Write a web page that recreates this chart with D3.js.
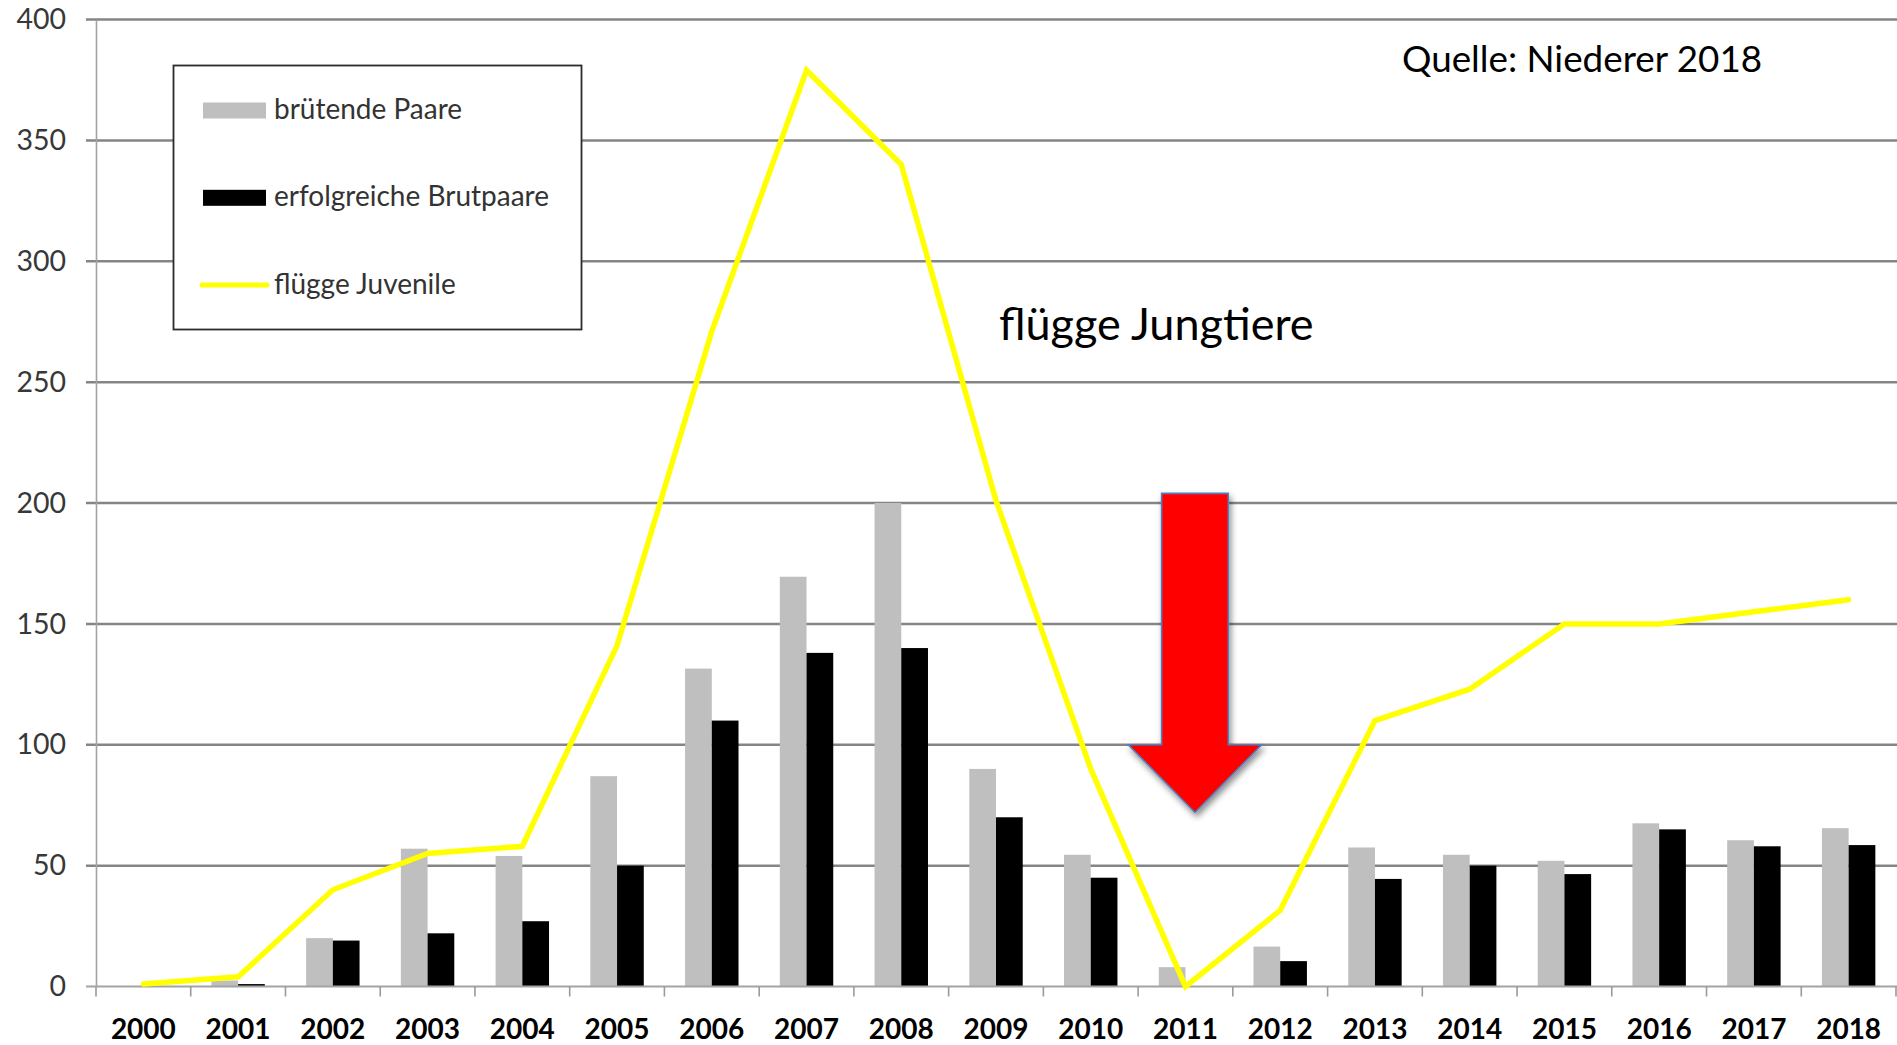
<!DOCTYPE html>
<html>
<head>
<meta charset="utf-8">
<script src="https://cdn.jsdelivr.net/npm/d3@7"></script>
<style>
  html, body { margin: 0; padding: 0; background: #fff; }
  svg { display: block; }
</style>
</head>
<body>
<svg id="chart" width="1897" height="1045"></svg>
<script>
// Jahre (Kategorien)
const years = ["2000", "2001", "2002", "2003", "2004", "2005", "2006", "2007", "2008", "2009",
               "2010", "2011", "2012", "2013", "2014", "2015", "2016", "2017", "2018"];

// brütende Paare
const brutendePaare = [0, 2.5, 20, 57, 54, 87, 131.5, 169.5, 200, 90,
                       54.5, 8, 16.5, 57.5, 54.5, 52, 67.5, 60.5, 65.5];

// erfolgreiche Brutpaare
const erfolgreicheBrutpaare = [0, 1, 19, 22, 27, 50, 110, 138, 140, 70,
                               45, 0, 10.5, 44.5, 50, 46.5, 65, 58, 58.5];

// flügge Juvenile
const fluggeJuvenile = [1, 4, 40, 55, 58, 141, 271, 379, 340, 201,
                        90, 0, 31.5, 110, 123, 150, 150, 155, 160];

// Achsenbeschriftung der y-Achse
const yTicks = [0, 50, 100, 150, 200, 250, 300, 350, 400];

// Pfeil über 2011 (Wertebereich in Datenwerten)
const arrowYear = "2011";
const arrowTop = 204, arrowNeck = 100, arrowTip = 72;

const legendItems = [
  { label: "brütende Paare", type: "bar", color: "#bfbfbf" },
  { label: "erfolgreiche Brutpaare", type: "bar", color: "#000000" },
  { label: "flügge Juvenile", type: "line", color: "#ffff00" }
];

const FONT = "Lato, 'Open Sans', sans-serif";
const svg = d3.select("#chart");

const x = d3.scaleBand()
  .domain(years)
  .range([96, 1896])
  .paddingInner(0.436)
  .paddingOuter(0.218);
const step = x.step();
const xs = d3.scaleBand().domain(["brut", "erfolg"]).range([0, x.bandwidth()]);
const y = d3.scaleLinear().domain([0, 400]).range([986.5, 19.5]);

const defs = svg.append("defs");
defs.append("filter")
  .attr("id", "arrowShadow")
  .attr("x", "-30%").attr("y", "-20%").attr("width", "160%").attr("height", "150%")
  .append("feDropShadow")
  .attr("dx", 2).attr("dy", 4).attr("stdDeviation", 3)
  .attr("flood-color", "#000").attr("flood-opacity", 0.45);

// Gitternetz
svg.append("g")
  .selectAll("line")
  .data(yTicks.filter(d => d > 0))
  .join("line")
  .attr("x1", 86).attr("x2", 1897)
  .attr("y1", d => y(d)).attr("y2", d => y(d))
  .attr("stroke", "#858585")
  .attr("stroke-width", 2.5);

// Legende (weisser Kasten über dem Gitter)
const legend = svg.append("g");
legend.append("rect")
  .attr("x", 173.5).attr("y", 65.5)
  .attr("width", 408).attr("height", 264)
  .attr("fill", "#fff")
  .attr("stroke", "#2b2b2b")
  .attr("stroke-width", 1.8);
legendItems.forEach((it, i) => {
  const cy = 110.5 + i * 87.3;
  if (it.type === "bar") {
    legend.append("rect")
      .attr("x", 203).attr("y", cy - 8)
      .attr("width", 63).attr("height", 16)
      .attr("fill", it.color);
  } else {
    legend.append("line")
      .attr("x1", 202).attr("x2", 267)
      .attr("y1", cy).attr("y2", cy)
      .attr("stroke", it.color)
      .attr("stroke-width", 5)
      .attr("stroke-linecap", "round");
  }
  legend.append("text")
    .attr("x", 274).attr("y", cy + 8.5)
    .attr("font-family", FONT)
    .attr("font-size", 28)
    .attr("fill", "#333")
    .text(it.label);
});

// Balken
const barGroups = svg.append("g")
  .selectAll("g")
  .data(years)
  .join("g")
  .attr("transform", d => `translate(${x(d)},0)`);

barGroups.append("rect")
  .attr("x", xs("brut"))
  .attr("width", xs.bandwidth())
  .attr("y", (d, i) => y(brutendePaare[i]))
  .attr("height", (d, i) => y(0) - y(brutendePaare[i]))
  .attr("fill", "#bfbfbf");

barGroups.append("rect")
  .attr("x", xs("erfolg"))
  .attr("width", xs.bandwidth())
  .attr("y", (d, i) => y(erfolgreicheBrutpaare[i]))
  .attr("height", (d, i) => y(0) - y(erfolgreicheBrutpaare[i]))
  .attr("fill", "#000");

// x-Achse (Grundlinie, Teilstriche zwischen den Jahren, Jahreszahlen)
svg.append("line")
  .attr("x1", 86).attr("x2", 1897)
  .attr("y1", y(0)).attr("y2", y(0))
  .attr("stroke", "#a3a3a3")
  .attr("stroke-width", 2);

const boundaries = years.map(d => x(d) + x.bandwidth() / 2 - step / 2)
  .concat([x(years[years.length - 1]) + x.bandwidth() / 2 + step / 2]);
svg.append("g")
  .selectAll("line")
  .data(boundaries)
  .join("line")
  .attr("x1", d => d).attr("x2", d => d)
  .attr("y1", y(0)).attr("y2", y(0) + 10)
  .attr("stroke", "#9a9a9a")
  .attr("stroke-width", 1.6);

const xAxis = svg.append("g")
  .attr("transform", `translate(0,${y(0)})`)
  .call(d3.axisBottom(x).tickSize(0).tickPadding(33));
xAxis.select(".domain").remove();
xAxis.selectAll("text")
  .attr("font-family", FONT)
  .attr("font-weight", 700)
  .attr("font-size", 28)
  .attr("fill", "#000");

// y-Achse
const yAxis = svg.append("g")
  .attr("transform", "translate(96,0)")
  .call(d3.axisLeft(y).tickValues(yTicks).tickSize(0).tickPadding(30));
yAxis.select(".domain")
  .attr("stroke", "#a3a3a3")
  .attr("stroke-width", 1.6);
yAxis.selectAll("text")
  .attr("font-family", FONT)
  .attr("font-size", 28.5)
  .attr("fill", "#383838");

// Linie: flügge Juvenile
const line = d3.line()
  .x((d, i) => x(years[i]) + x.bandwidth() / 2)
  .y(d => y(d));
svg.append("path")
  .datum(fluggeJuvenile)
  .attr("d", line)
  .attr("fill", "none")
  .attr("stroke", "#ffff00")
  .attr("stroke-width", 5.5)
  .attr("stroke-linejoin", "miter")
  .attr("stroke-linecap", "round");

// roter Pfeil bei 2011
const ax = x(arrowYear) + x.bandwidth() / 2 + 0.1 * step;
const shaftHalf = 0.352 * step, headHalf = 0.704 * step;
const arrowPts = [
  [ax - shaftHalf, y(arrowTop)],
  [ax + shaftHalf, y(arrowTop)],
  [ax + shaftHalf, y(arrowNeck)],
  [ax + headHalf, y(arrowNeck)],
  [ax, y(arrowTip)],
  [ax - headHalf, y(arrowNeck)],
  [ax - shaftHalf, y(arrowNeck)]
];
svg.append("path")
  .attr("d", d3.line()(arrowPts) + "Z")
  .attr("fill", "#ff0000")
  .attr("stroke", "#4f7fbf")
  .attr("stroke-width", 1.6)
  .attr("stroke-linejoin", "miter")
  .attr("filter", "url(#arrowShadow)");

// Beschriftungen
svg.append("text")
  .attr("x", 1402).attr("y", 72)
  .attr("font-family", FONT)
  .attr("font-size", 36.8)
  .attr("fill", "#000")
  .text("Quelle: Niederer 2018");

svg.append("text")
  .attr("x", 999).attr("y", 340)
  .attr("font-family", FONT)
  .attr("font-size", 45)
  .attr("fill", "#000")
  .text("flügge Jungtiere");
</script>
</body>
</html>
